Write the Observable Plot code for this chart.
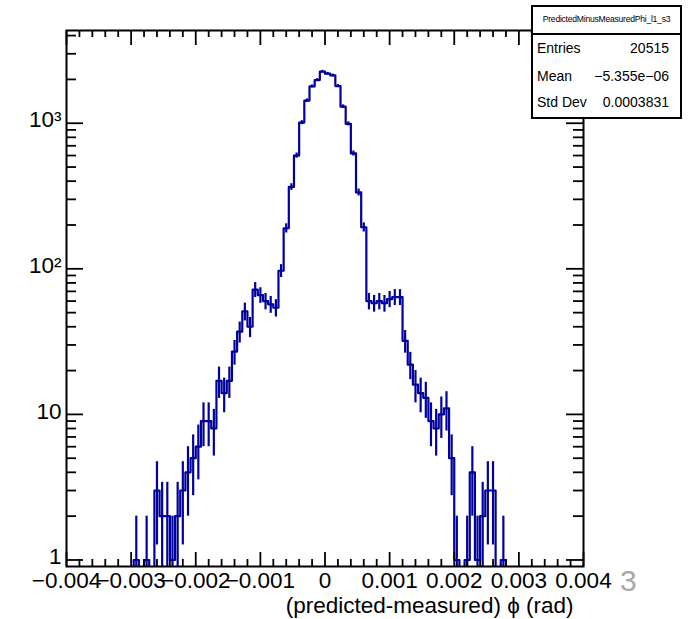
<!DOCTYPE html>
<html>
<head>
<meta charset="utf-8">
<script src="https://cdn.jsdelivr.net/npm/d3@7"></script>
<script src="https://cdn.jsdelivr.net/npm/@observablehq/plot@0.6"></script>
<style>
  body { margin: 0; background: #fff; font-family: "Liberation Sans", Arial, Helvetica, sans-serif; }
  #wrap { position: relative; width: 695px; height: 619px; overflow: hidden; background: #fff; }
  #wrap svg { position: absolute; left: 0; top: 0; }
  #stats { position: absolute; left: 531px; top: 5px; width: 151px; height: 114px; box-sizing: border-box;
           border: 2px solid #000; background: #fff; }
  #stats .hdr { position: absolute; left: 0; right: 0; top: 6px; text-align: center; font-size: 8.6px; line-height: 12px; letter-spacing: -0.25px; }
  #stats .sep { position: absolute; left: 0; right: 0; top: 26px; border-top: 2px solid #000; }
  #stats .row { position: absolute; left: 4px; right: 11px; height: 18px; line-height: 18px; font-size: 14px; }
  #stats .row .n { position: absolute; left: 0; }
  #stats .row .v { position: absolute; right: 0; }
  #page { position: absolute; left: 620px; top: 566px; font-size: 30px; line-height: 30px; color: #a8a8a8; }
</style>
</head>
<body>
<div id="wrap"></div>
<script>
// ---------------- data ----------------
const xMin = -0.004, xMax = 0.004, nBins = 100;
const counts = [
  0,0,0,0,0,0,0,0,0,0, 0,0,0,1,0,1,0,3,2,2,
  1,2,3,4,5,6,9,9,8,17, 14,17,27,37,51,40,72,66,60,57,
  54,97,190,365,600,1010,1430,1790,1980,2260, 2190,2130,1800,1300,990,620,335,193,60,58,
  60,58,62,64,64,32,22,16,14,13, 9,8,10,11,5,1,0,1,4,1,
  2,3,3,0,1,0,0,0,0,0, 0,0,0,0,0,0,0,0,0,0
];
const xTickValues = [-0.004, -0.003, -0.002, -0.001, 0, 0.001, 0.002, 0.003, 0.004];
const xTickLabels = ["\u22120.004", "\u22120.003", "\u22120.002", "\u22120.001", "0", "0.001", "0.002", "0.003", "0.004"];
const yTickValues = [1, 10, 100, 1000];
const yTickLabels = ["1", "10", "10\u00B2", "10\u00B3"];
const histName = "PredictedMinusMeasuredPhi_l1_s3";
const statsNames = ["Entries", "Mean", "Std Dev"];
const statsValues = ["20515", "\u22125.355e\u221206", "0.0003831"];
const xTitle = "(predicted-measured) \u03D5 (rad)";
const pageNumber = "3";

// ---------------- layout ----------------
const W = 695, H = 619;
const mT = 30, mB = 53, mL = 66, mR = 112;
const pw = W - mL - mR, ph = H - mT - mB;
const lineColor = "#00009c";
const yDomain = [0.902, 4335];
const floorVal = 0.3; // empty bins drop below the frame (clipped), as in ROOT log view

const w = (xMax - xMin) / nBins;
const bins = counts.map((c, i) => ({lo: xMin + i * w, hi: xMin + (i + 1) * w, mid: xMin + (i + 0.5) * w, c}));
const outline = bins.flatMap(b => [{x: b.lo, y: b.c > 0 ? b.c : floorVal}, {x: b.hi, y: b.c > 0 ? b.c : floorVal}]);
const errs = bins.filter(b => b.c > 0).map(b => ({x: b.mid, y1: Math.max(b.c - Math.sqrt(b.c), floorVal), y2: b.c + Math.sqrt(b.c)}));

const xMinor = d3.range(-20, 21).map(k => k * 0.0002).filter(v => !xTickValues.some(t => Math.abs(t - v) < 1e-9));
const yMinor = [];
for (const d of [1, 10, 100, 1000]) for (let k = 2; k <= 9; k++) if (d * k <= yDomain[1]) yMinor.push(d * k);

const tickStyle = {stroke: "#000", strokeWidth: 1.8};
const fs = 22.5;

const chart = Plot.plot({
  width: W, height: H,
  marginTop: mT, marginBottom: mB, marginLeft: mL, marginRight: mR,
  x: {type: "linear", domain: [xMin, xMax], axis: null},
  y: {type: "log", domain: yDomain, axis: null},
  style: {fontFamily: "'Liberation Sans', Arial, Helvetica, sans-serif", background: "transparent", color: "#000"},
  marks: [
    Plot.line(outline, {x: "x", y: "y", stroke: lineColor, strokeWidth: 2.2, clip: true}),
    Plot.ruleX(errs, {x: "x", y1: "y1", y2: "y2", stroke: lineColor, strokeWidth: 2.2, clip: true}),
    // bottom ticks
    Plot.tickX(xTickValues, {x: d => d, insetTop: ph - 14, ...tickStyle}),
    Plot.tickX(xMinor, {x: d => d, insetTop: ph - 7, ...tickStyle}),
    // top ticks
    Plot.tickX(xTickValues, {x: d => d, insetBottom: ph - 15, ...tickStyle}),
    Plot.tickX(xMinor, {x: d => d, insetBottom: ph - 7, ...tickStyle}),
    // left ticks
    Plot.tickY(yTickValues, {y: d => d, insetRight: pw - 17, ...tickStyle}),
    Plot.tickY(yMinor, {y: d => d, insetRight: pw - 10, ...tickStyle}),
    // right ticks
    Plot.tickY(yTickValues, {y: d => d, insetLeft: pw - 17, ...tickStyle}),
    Plot.tickY(yMinor, {y: d => d, insetLeft: pw - 10, ...tickStyle}),
    Plot.frame({stroke: "#000", strokeWidth: 2}),
    Plot.text(xTickValues, {x: d => d, text: (d, i) => xTickLabels[i], frameAnchor: "bottom", lineAnchor: "top", dy: 6, fontSize: fs, fill: "#000"}),
    Plot.text(yTickValues, {y: d => d, text: (d, i) => yTickLabels[i], frameAnchor: "left", textAnchor: "end", dx: -5, dy: -3, fontSize: fs, fill: "#000"}),
    Plot.text([xTitle], {text: d => d, frameAnchor: "bottom-right", textAnchor: "end", lineAnchor: "bottom", dx: -10, dy: 46, fontSize: fs, fill: "#000"})
  ]
});

const wrap = document.getElementById("wrap");
wrap.appendChild(chart);

// stats box (legend-like overlay)
const stats = document.createElement("div");
stats.id = "stats";
const hdr = document.createElement("div");
hdr.className = "hdr"; hdr.textContent = histName;
stats.appendChild(hdr);
const sep = document.createElement("div");
sep.className = "sep";
stats.appendChild(sep);
const rowCenters = [41, 69, 95];
statsNames.forEach((n, i) => {
  const r = document.createElement("div");
  r.className = "row";
  r.style.top = (rowCenters[i] - 9) + "px";
  const a = document.createElement("span"); a.className = "n"; a.textContent = n;
  const b = document.createElement("span"); b.className = "v"; b.textContent = statsValues[i];
  r.appendChild(a); r.appendChild(b);
  stats.appendChild(r);
});
wrap.appendChild(stats);

const page = document.createElement("div");
page.id = "page"; page.textContent = pageNumber;
wrap.appendChild(page);
</script>
</body>
</html>
